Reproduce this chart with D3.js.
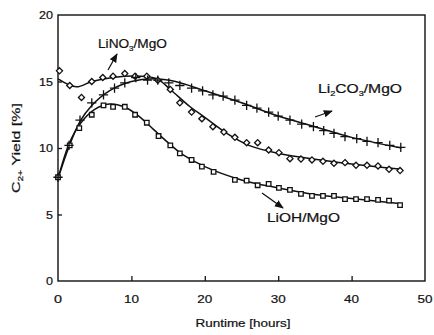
<!DOCTYPE html>
<html>
<head>
<meta charset="utf-8">
<script src="https://cdn.jsdelivr.net/npm/d3@7"></script>
<style>
  body { margin: 0; background: #fff; }
  svg { display: block; font-family: "Liberation Sans", Arial, sans-serif; }
  text { stroke: #111; stroke-width: 0.2; }
</style>
</head>
<body>
<svg id="chart" width="434" height="335"></svg>
<script>
// measured points (runtime in hours, C2+ yield in %)
const lino3Points = [[0.2,15.8],[1.6,14.7],[3.2,13.8],[4.6,15.0],[6.1,15.3],[7.5,15.4],[9.1,15.6],[10.5,15.4],[12.1,15.4],[13.6,15.1],[15.3,14.4],[16.6,13.4],[18.2,12.7],[19.6,12.2],[21.1,11.6],[22.6,11.2],[24.1,10.8],[25.7,10.4],[27.2,10.4],[28.7,9.85],[30.1,9.65],[31.6,9.2],[33.1,9.17],[34.6,9.1],[36.1,9.0],[37.6,8.85],[39.1,8.9],[40.6,8.7],[42.1,8.7],[43.6,8.65],[45.1,8.4],[46.6,8.3]];
const li2co3Points = [[0,7.8],[1.5,10.2],[3.0,12.1],[4.6,13.4],[6.2,14.0],[7.7,14.5],[9.1,14.9],[10.6,15.3],[12.2,15.1],[13.6,15.1],[15.1,14.9],[16.6,14.7],[18.2,14.5],[19.7,14.3],[21.1,14.0],[22.5,13.9],[24.1,13.6],[25.7,13.2],[27.1,13.0],[28.7,12.7],[30.0,12.4],[31.6,12.1],[33.2,11.8],[34.8,11.6],[36.2,11.3],[37.6,11.1],[39.1,10.85],[40.7,10.7],[42.1,10.5],[43.6,10.4],[45.2,10.2],[46.7,10.05]];
const liohPoints = [[0,7.8],[1.6,10.2],[2.9,11.5],[4.6,12.5],[6.2,13.2],[7.5,13.1],[9.1,13.1],[10.5,12.5],[12.1,11.9],[13.7,10.9],[15.3,10.2],[16.6,9.6],[18.2,9.1],[19.6,8.6],[21.2,8.2],[24.1,7.6],[25.7,7.55],[27.2,7.2],[28.7,7.3],[30.1,7.0],[31.6,6.85],[33.1,6.55],[34.6,6.4],[36.1,6.4],[37.6,6.4],[39.1,6.15],[40.6,6.15],[42.1,6.15],[43.6,6.1],[45.1,6.05],[46.6,5.7]];

// fitted curves
const lino3Fit = [[0,15.2],[2.5,14.6],[4.6,15.0],[7.5,15.3],[11,15.4],[13.5,15.2],[15.3,14.4],[18,13.1],[20,12.3],[23,11.1],[26,10.2],[30,9.6],[35,9.15],[40,8.8],[44,8.55],[46.8,8.4]];
const li2co3Fit = [[0,7.7],[1.5,10.1],[3,12.0],[4.6,13.2],[7,14.3],[10,15.0],[13,15.2],[16,15.0],[20,14.3],[25,13.4],[30,12.4],[35,11.6],[40,10.8],[46.8,10.0]];
const liohFit = [[0,7.7],[1.5,10.3],[3,11.8],[5,12.9],[7,13.3],[9,13.1],[11,12.4],[13,11.4],[15,10.4],[17,9.5],[20,8.6],[25,7.6],[30,7.0],[35,6.5],[40,6.2],[46.8,5.8]];

const xTicks = [0, 10, 20, 30, 40, 50];
const yTicks = [0, 5, 10, 15, 20];

const svg = d3.select("#chart");
const x = d3.scaleLinear().domain([0, 50]).range([58, 425]);
const y = d3.scaleLinear().domain([0, 20]).range([281, 15]);

const ink = "#111";

// frame
svg.append("rect")
    .attr("x", x(0)).attr("y", y(20))
    .attr("width", x(50) - x(0)).attr("height", y(0) - y(20))
    .attr("fill", "none").attr("stroke", ink).attr("stroke-width", 1.4);

// ticks (inward)
svg.append("g").attr("transform", `translate(0,${y(0)})`)
    .call(d3.axisTop(x).tickValues(xTicks.slice(1, -1)).tickSize(5).tickFormat(""))
    .call(g => g.select(".domain").remove())
    .call(g => g.selectAll("line").attr("stroke", ink).attr("stroke-width", 1.3));
svg.append("g").attr("transform", `translate(${x(0)},0)`)
    .call(d3.axisRight(y).tickValues(yTicks.slice(1, -1)).tickSize(4).tickFormat(""))
    .call(g => g.select(".domain").remove())
    .call(g => g.selectAll("line").attr("stroke", ink).attr("stroke-width", 1.3));

// tick labels (scanned font is wide)
svg.selectAll(".xl").data(xTicks).enter().append("text")
    .attr("x", d => x(d)).attr("y", 303)
    .attr("text-anchor", "middle").attr("font-size", 11).attr("fill", ink)
    .attr("textLength", d => d === 0 ? 8 : 15).attr("lengthAdjust", "spacingAndGlyphs")
    .text(d => d);
svg.selectAll(".yl").data(yTicks).enter().append("text")
    .attr("x", 53).attr("y", d => y(d) + 4)
    .attr("text-anchor", "end").attr("font-size", 11).attr("fill", ink)
    .attr("textLength", d => d < 10 ? 7 : 14).attr("lengthAdjust", "spacingAndGlyphs")
    .text(d => d);

// axis titles
svg.append("text")
    .attr("x", 243).attr("y", 327).attr("text-anchor", "middle")
    .attr("font-size", 11).attr("fill", ink)
    .attr("textLength", 95).attr("lengthAdjust", "spacingAndGlyphs")
    .text("Runtime  [hours]");
const yt = svg.append("text")
    .attr("transform", "translate(20,148) rotate(-90)")
    .attr("text-anchor", "middle").attr("font-size", 11).attr("fill", ink)
    .attr("textLength", 90).attr("lengthAdjust", "spacingAndGlyphs");
yt.append("tspan").text("C");
yt.append("tspan").attr("font-size", 7).attr("dy", 3).text("2+");
yt.append("tspan").attr("dy", -3).text("  Yield  [%]");

// fit lines
const line = d3.line().x(d => x(d[0])).y(d => y(d[1])).curve(d3.curveCatmullRom.alpha(0.5));
[lino3Fit, li2co3Fit, liohFit].forEach(f => {
    svg.append("path").attr("d", line(f))
        .attr("fill", "none").attr("stroke", ink).attr("stroke-width", 1.5);
});

// markers
const mk = svg.append("g").attr("stroke", ink).attr("stroke-width", 1.3).attr("fill", "#fff");
mk.selectAll(".dia").data(lino3Points).enter().append("path")
    .attr("d", d3.symbol(d3.symbolDiamond2, 24)())
    .attr("transform", d => `translate(${x(d[0])},${y(d[1])})`);
mk.selectAll(".sq").data(liohPoints).enter().append("path")
    .attr("d", d3.symbol(d3.symbolSquare2, 26)())
    .attr("transform", d => `translate(${x(d[0])},${y(d[1])})`);
mk.selectAll(".pl").data(li2co3Points).enter().append("path")
    .attr("d", d3.symbol(d3.symbolPlus, 30)())
    .attr("fill", "none")
    .attr("transform", d => `translate(${x(d[0])},${y(d[1])})`);

// arrowhead
svg.append("defs").append("marker")
    .attr("id", "ah").attr("viewBox", "0 0 10 10").attr("refX", 9).attr("refY", 5)
    .attr("markerWidth", 7).attr("markerHeight", 7).attr("orient", "auto")
    .append("path").attr("d", "M0,1 L10,5 L0,9 Z").attr("fill", ink);

// annotations
const labels = [
    { base: "LiNO", sub: "3", rest: "/MgO", tx: 98, ty: 48, len: 69, from: [108, 70], to: [117, 54] },
    { base: "Li", sub: "2", rest: "CO", sub2: "3", rest2: "/MgO", tx: 318, ty: 93, len: 84, from: [315, 117], to: [332, 111] },
    { base: "LiOH/MgO", tx: 267, ty: 222, len: 73, from: [262, 193], to: [283, 208] }
];
labels.forEach(l => {
    const t = svg.append("text").attr("x", l.tx).attr("y", l.ty)
        .attr("font-size", 12).attr("fill", ink)
        .attr("textLength", l.len).attr("lengthAdjust", "spacingAndGlyphs");
    t.append("tspan").text(l.base);
    if (l.sub) {
        t.append("tspan").attr("font-size", 7).attr("dy", 3).text(l.sub);
        t.append("tspan").attr("dy", -3).text(l.rest);
    }
    if (l.sub2) {
        t.append("tspan").attr("font-size", 7).attr("dy", 3).text(l.sub2);
        t.append("tspan").attr("dy", -3).text(l.rest2);
    }
    svg.append("line")
        .attr("x1", l.from[0]).attr("y1", l.from[1])
        .attr("x2", l.to[0]).attr("y2", l.to[1])
        .attr("stroke", ink).attr("stroke-width", 1.3)
        .attr("marker-end", "url(#ah)");
});
</script>
</body>
</html>
